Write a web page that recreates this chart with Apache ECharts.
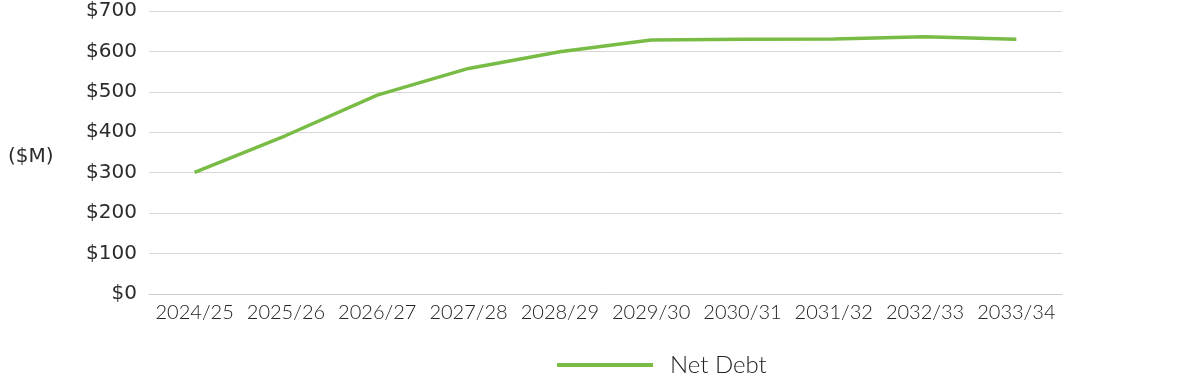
<!DOCTYPE html>
<html>
<head>
<meta charset="utf-8">
<script src="https://cdn.jsdelivr.net/npm/echarts@6/dist/echarts.min.js"></script>
<style>html,body{margin:0;padding:0;background:#fff}#c{width:1200px;height:383px}</style>
</head>
<body>
<div id="c"></div>
<script>
const categories = ['2024/25','2025/26','2026/27','2027/28','2028/29','2029/30','2030/31','2031/32','2032/33','2033/34'];
const netDebt = [301, 392, 492, 558, 599, 628, 630, 631, 636, 630];
const yTicks = [0, 100, 200, 300, 400, 500, 600, 700];
const seriesName = 'Net Debt';
const unitLabel = '($M)';

const chart = echarts.init(document.getElementById('c'));
chart.setOption({
  animation: false,
  backgroundColor: '#ffffff',
  grid: { left: 149, right: 138, top: 11, bottom: 89, containLabel: false },
  graphic: [{
    type: 'text', left: 8, top: 147,
    style: { text: unitLabel, font: '20px "DejaVu Sans"', fill: '#2b2b2b' }
  }],
  legend: {
    data: [seriesName], left: 552, top: 348,
    icon: 'rect', itemWidth: 96, itemHeight: 4,
    textStyle: { fontFamily: 'Lato', fontWeight: 300, fontSize: 24, color: '#222222', padding: [0, 0, 0, 12] }
  },
  xAxis: {
    type: 'category', data: categories, boundaryGap: true,
    axisLine: { show: true, lineStyle: { color: '#cccccc', width: 1 } },
    axisTick: { show: false },
    axisLabel: { fontFamily: 'Lato', fontWeight: 300, fontSize: 20, color: '#222222', margin: 9, interval: 0 }
  },
  yAxis: {
    type: 'value', min: yTicks[0], max: yTicks[yTicks.length - 1], interval: 100,
    axisLine: { show: false }, axisTick: { show: false },
    splitLine: { lineStyle: { color: '#d6d6d6', width: 1 } },
    axisLabel: { fontFamily: 'DejaVu Sans', fontSize: 20, color: '#2b2b2b', margin: 12,
      formatter: v => '$' + v }
  },
  series: [{
    name: seriesName, type: 'line', data: netDebt, symbol: 'none',
    lineStyle: { color: '#78bc45', width: 3.5 }, itemStyle: { color: '#78bc45' }
  }]
});
</script>
</body>
</html>
